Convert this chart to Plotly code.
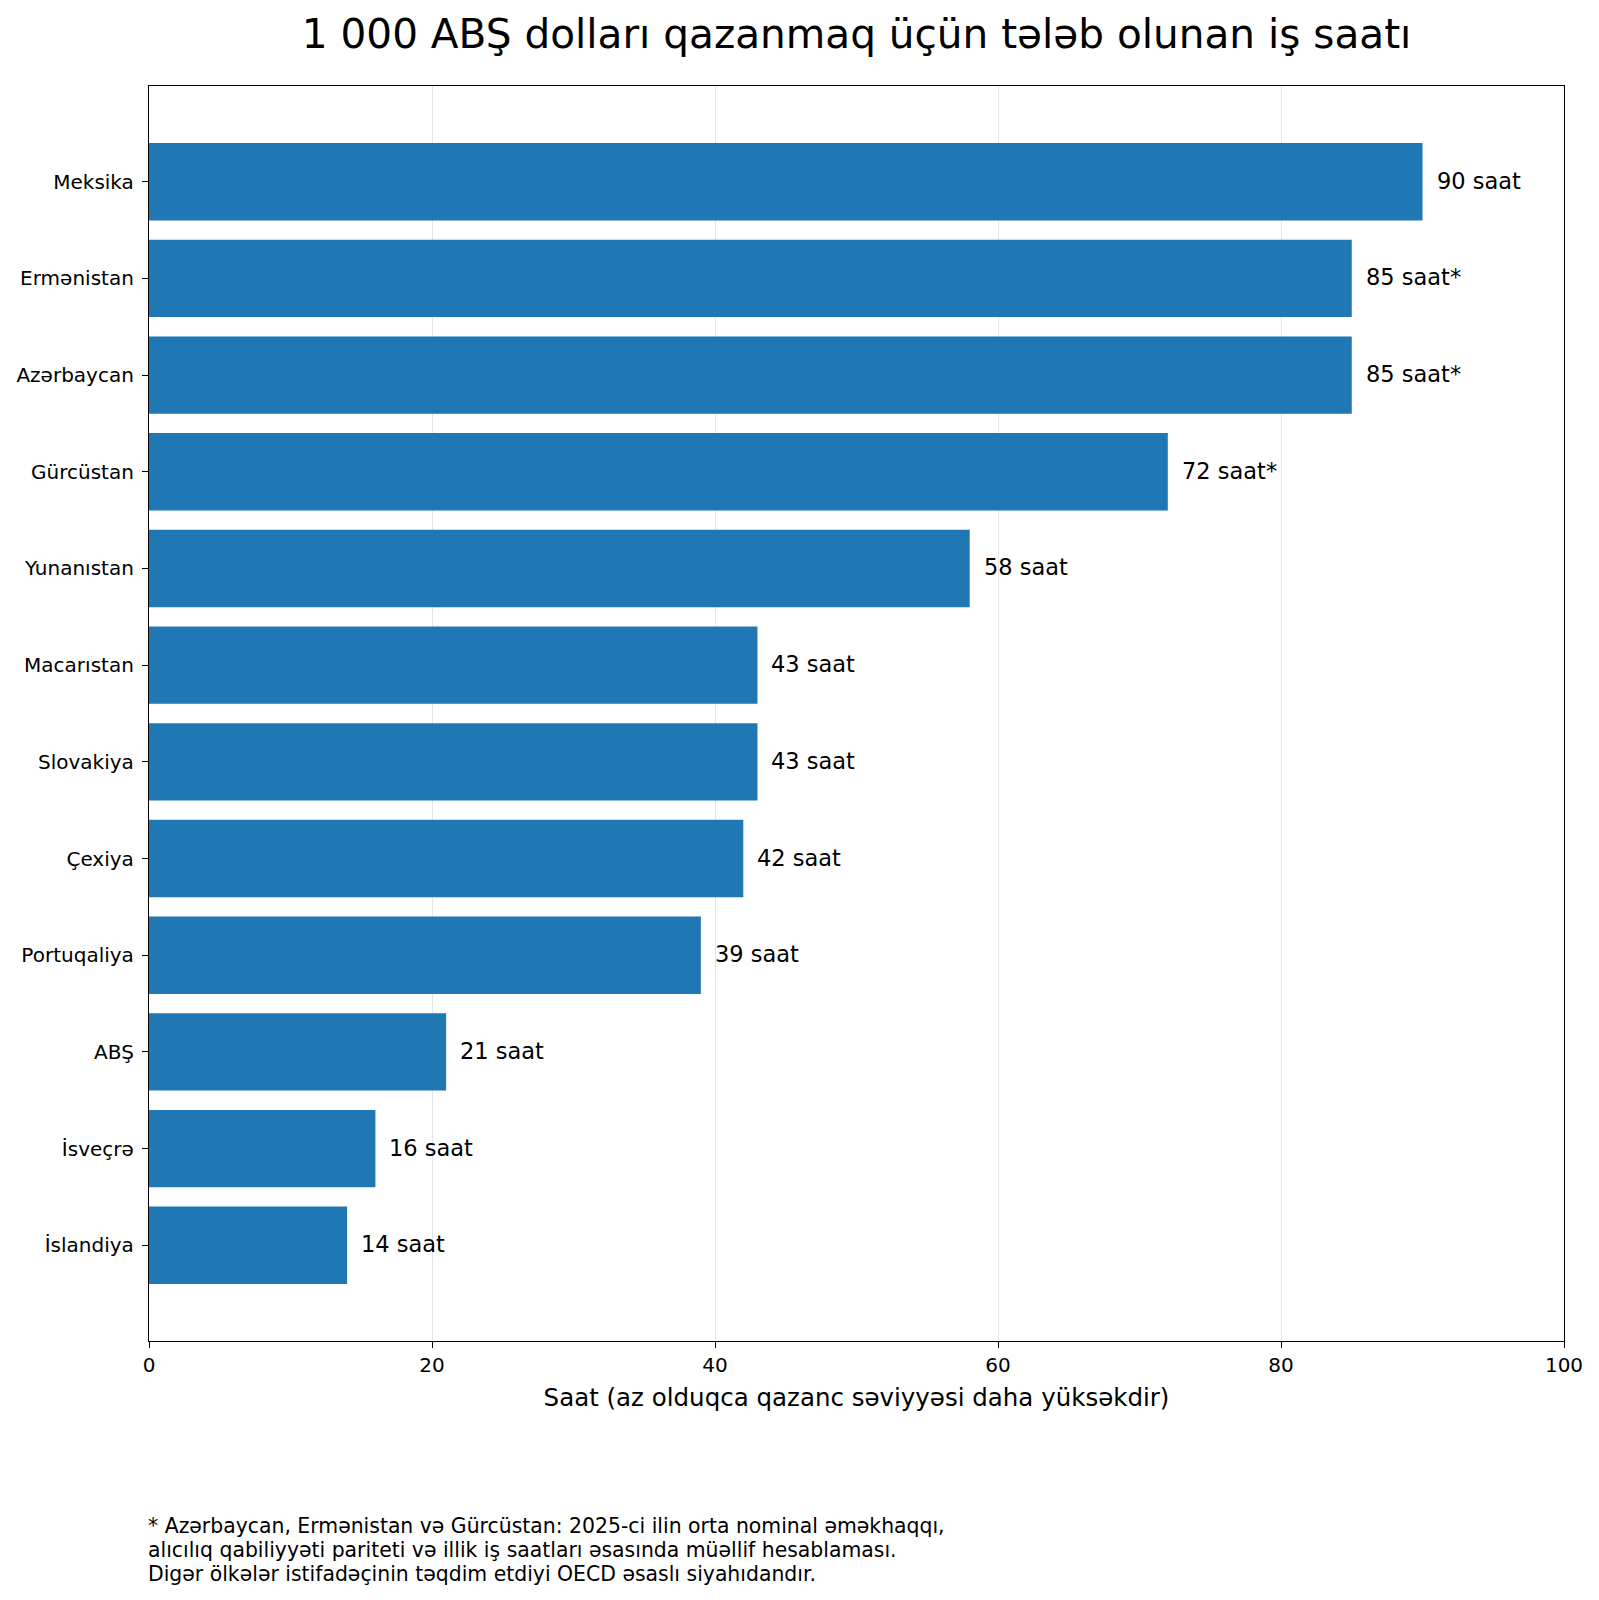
import plotly.graph_objects as go

countries = ["Meksika", "Ermənistan", "Azərbaycan", "Gürcüstan", "Yunanıstan", "Macarıstan",
             "Slovakiya", "Çexiya", "Portuqaliya", "ABŞ", "İsveçrə", "İslandiya"]
hours = [90, 85, 85, 72, 58, 43, 43, 42, 39, 21, 16, 14]
labels = ["90 saat", "85 saat*", "85 saat*", "72 saat*", "58 saat", "43 saat",
          "43 saat", "42 saat", "39 saat", "21 saat", "16 saat", "14 saat"]
x_ticks = [0, 20, 40, 60, 80, 100]

title = "1 000 ABŞ dolları qazanmaq üçün tələb olunan iş saatı"
x_title = "Saat (az olduqca qazanc səviyyəsi daha yüksəkdir)"
footnote_lines = [
    "* Azərbaycan, Ermənistan və Gürcüstan: 2025-ci ilin orta nominal əməkhaqqı,",
    "alıcılıq qabiliyyəti pariteti və illik iş saatları əsasında müəllif hesablaması.",
    "Digər ölkələr istifadəçinin təqdim etdiyi OECD əsaslı siyahıdandır.",
]

FONT = "DejaVu Sans"
idx = list(range(len(countries)))

fig = go.Figure()
fig.add_trace(go.Bar(
    x=hours, y=idx, orientation="h", width=0.8,
    marker=dict(color="#1f77b4", line=dict(width=0)),
    showlegend=False,
))

for i, (v, lab) in enumerate(zip(hours, labels)):
    fig.add_annotation(x=v, y=i, text=lab, showarrow=False, xanchor="left", yanchor="middle",
                       xshift=12, yshift=1, font=dict(family=FONT, size=22.5, color="black"))

foot_y = [-0.1478, -0.1665, -0.1853]
for ln, yy in zip(footnote_lines, foot_y):
    fig.add_annotation(xref="paper", yref="paper", x=0, y=yy, xanchor="left", yanchor="middle",
                       text=ln, showarrow=False, align="left", xshift=-3,
                       font=dict(family=FONT, size=20.4, color="black"))

fig.update_layout(
    width=1599, height=1600,
    margin=dict(l=149, r=35, t=86, b=259),
    paper_bgcolor="white", plot_bgcolor="white",
    font=dict(family=FONT, color="black"),
    title=dict(text=title, x=0.5357, xanchor="center", y=0.979, yanchor="middle",
               font=dict(family=FONT, size=40.6, color="black")),
    bargap=0.2,
)
fig.update_xaxes(
    range=[0, 100], tickvals=x_ticks, ticktext=[str(t) for t in x_ticks],
    showgrid=True, gridcolor="rgba(170,170,170,0.3)", gridwidth=1,
    showline=True, linecolor="black", linewidth=1.3, mirror=True,
    ticks="outside", ticklen=6, tickcolor="black", tickwidth=1.2,
    tickfont=dict(family=FONT, size=20, color="black"),
    title=dict(text=x_title, font=dict(family=FONT, size=24.5, color="black"), standoff=12),
    zeroline=False, layer="above traces",
)
fig.update_yaxes(
    range=[11.99, -0.99], tickvals=idx, ticktext=countries,
    showgrid=False, showline=True, linecolor="black", linewidth=1.3, mirror=True,
    ticks="outside", ticklen=6, tickcolor="black", tickwidth=1.2, ticklabelstandoff=4,
    tickfont=dict(family=FONT, size=20, color="black"),
    zeroline=False, layer="above traces",
)

fig.write_html("out.html")
